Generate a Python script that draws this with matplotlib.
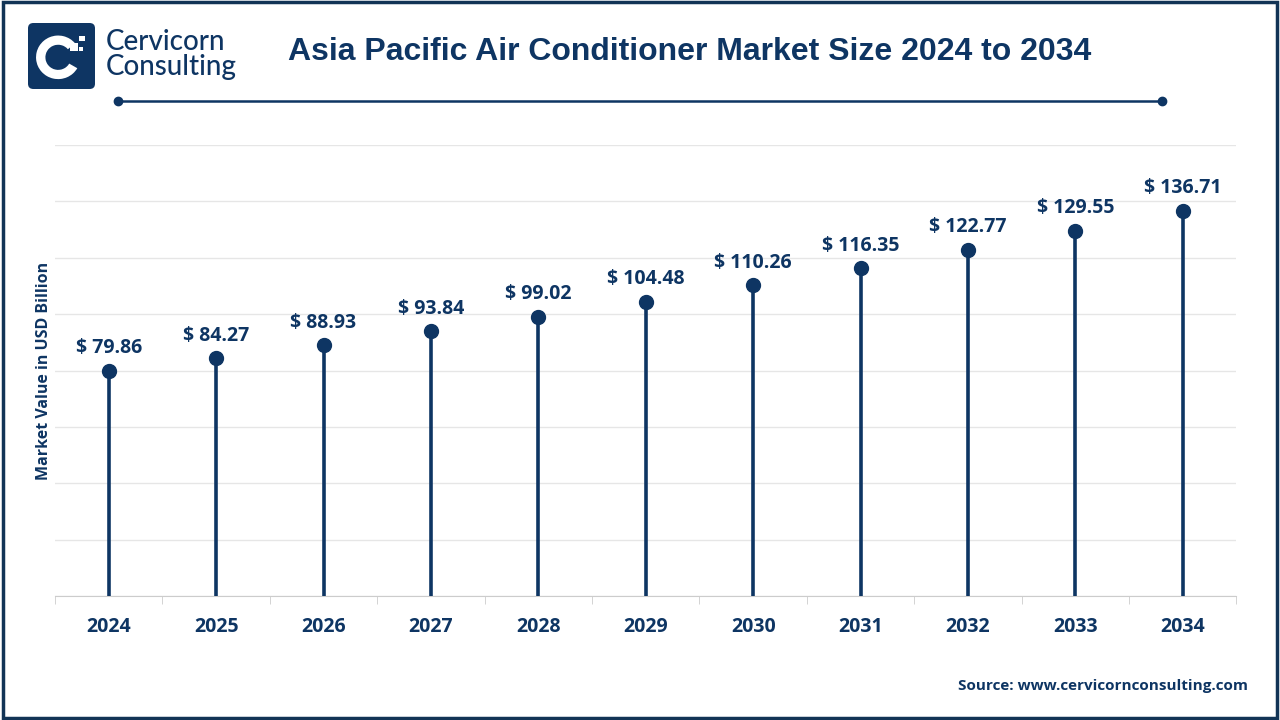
import numpy as np
import matplotlib.pyplot as plt
from matplotlib.patches import FancyBboxPatch, Rectangle, Wedge
from matplotlib.lines import Line2D

# Data
years = ["2024", "2025", "2026", "2027", "2028", "2029", "2030", "2031", "2032", "2033", "2034"]
values = [79.86, 84.27, 88.93, 93.84, 99.02, 104.48, 110.26, 116.35, 122.77, 129.55, 136.71]

NAVY = "#0e3563"
TITLE = "Asia Pacific Air Conditioner Market Size 2024 to 2034"

fig = plt.figure(figsize=(12.8, 7.2), dpi=100)
fig.patch.set_facecolor("white")

# outer frame
fig.add_artist(Rectangle((0.002, 0.003), 0.996, 0.994, transform=fig.transFigure,
                         fill=False, edgecolor="#123456", linewidth=2.5))

ax = fig.add_axes([0.043, 0.1722, 0.923, 0.6264])
x = np.arange(len(years))
ax.vlines(x, 0, values, color=NAVY, linewidth=2.6, zorder=3)
ax.plot(x, values, "o", color=NAVY, markersize=10, zorder=4)
for xi, v in zip(x, values):
    ax.annotate(f"$ {v:.2f}", (xi, v), xytext=(0, 9), textcoords="offset points",
                ha="center", va="bottom", fontsize=14, fontweight="bold",
                color=NAVY, family="Open Sans")

ax.set_xlim(-0.5, len(years) - 0.5)
ax.set_ylim(0, 160)
ax.set_yticks(np.arange(0, 161, 20))
ax.yaxis.grid(True, color="#e6e6e6", linewidth=1)
ax.set_axisbelow(True)
ax.tick_params(axis="y", left=False, labelleft=False)
ax.set_xticks(x)
ax.set_xticklabels(years, fontsize=14, fontweight="bold", color=NAVY, family="Open Sans")
ax.tick_params(axis="x", length=0, pad=15)
ax.set_xticks(np.arange(-0.5, len(years)), minor=True)
ax.tick_params(axis="x", which="minor", length=6, color="#cccccc")
for s in ["top", "right", "left"]:
    ax.spines[s].set_visible(False)
ax.spines["bottom"].set_color("#cccccc")
ax.set_ylabel("Market Value in USD Billion", fontsize=11.5, fontweight="bold",
              color=NAVY, family="Open Sans", labelpad=2)

# title and rule
fig.text(0.539, 0.928, TITLE, ha="center", va="center", fontsize=23,
         fontweight="bold", color=NAVY, family="Liberation Sans")
fig.add_artist(Line2D([0.092, 0.908], [0.860, 0.860], transform=fig.transFigure,
                      color=NAVY, linewidth=1.8, marker="o", markersize=6,
                      markevery=[0, 1]))

# logo
lx0, ly0, lw, lh = 28 / 1280, 1 - 89 / 720, 67 / 1280, 66 / 720
lax = fig.add_axes([lx0, ly0, lw, lh], zorder=5)
lax.set_xlim(0, 1)
lax.set_ylim(0, 1)
lax.axis("off")
lax.add_patch(FancyBboxPatch((0, 0), 1, 1, boxstyle="round,pad=0,rounding_size=0.08",
                             facecolor=NAVY, edgecolor="none"))
lax.add_patch(Wedge((0.45, 0.48), 0.33, 40, 330, width=0.14, facecolor="white"))
lax.add_patch(Rectangle((0.62, 0.58), 0.12, 0.12, facecolor="white"))
lax.add_patch(Rectangle((0.76, 0.72), 0.09, 0.09, facecolor="white"))
lax.add_patch(Rectangle((0.76, 0.58), 0.06, 0.06, facecolor="white"))
fig.text(106 / 1280, 1 - 42 / 720, "Cervicorn", fontsize=20, color=NAVY,
         family="Lato", fontweight="medium", va="center", ha="left")
fig.text(106 / 1280, 1 - 67 / 720, "Consulting", fontsize=20, color=NAVY,
         family="Lato", fontweight="medium", va="center", ha="left")

fig.text(0.975, 1 - 686 / 720, "Source: www.cervicornconsulting.com", ha="right",
         va="center", fontsize=11, fontweight="bold", color=NAVY, family="Open Sans")

fig.savefig("out.png", dpi=100)
